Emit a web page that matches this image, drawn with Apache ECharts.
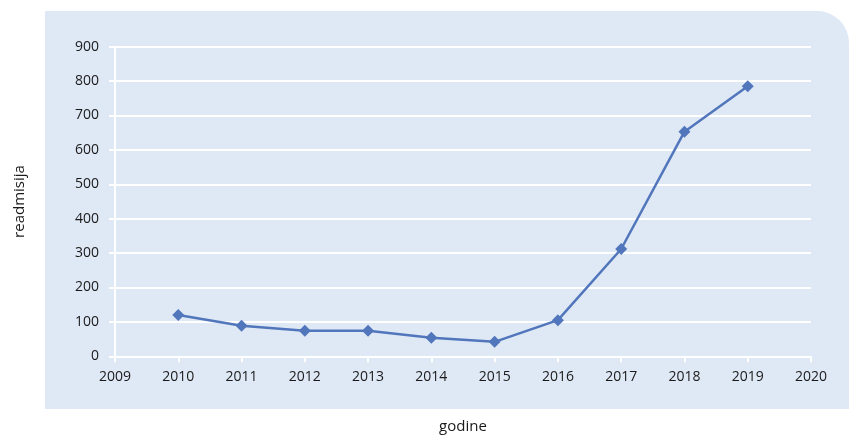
<!DOCTYPE html>
<html><head><meta charset="utf-8">
<script src="https://cdn.jsdelivr.net/npm/echarts@6/dist/echarts.min.js"></script>
<style>html,body{margin:0;padding:0;background:#fff}#c{width:849px;height:436px}</style>
</head><body><div id="c"></div>
<script>
const years = [2010, 2011, 2012, 2013, 2014, 2015, 2016, 2017, 2018, 2019];
const readmisija = [120, 89, 74, 74, 54, 42, 105, 312, 653, 785];
const xAxisName = 'godine';
const yAxisName = 'readmisija';

const chart = echarts.init(document.getElementById('c'), null, {renderer: 'canvas'});
const font = '"Open Sans", Lato, sans-serif';
chart.setOption({
  animation: false,
  graphic: [{
    type: 'rect', z: -10, silent: true,
    shape: {x: 45, y: 11, width: 804, height: 398, r: [0, 32, 0, 0]},
    style: {fill: '#dfe8f5'}
  }],
  grid: {left: 115, right: 38, top: 46.7, bottom: 79.7, containLabel: false, outerBoundsMode: 'none'},
  xAxis: {
    type: 'value', min: 2009, max: 2020, interval: 1,
    name: xAxisName, nameLocation: 'middle', nameGap: 63,
    nameTextStyle: {color: '#1a1a1a', fontSize: 15, fontFamily: font},
    axisLine: {show: true, lineStyle: {color: '#ffffff', width: 2}},
    axisTick: {show: true, length: 6, lineStyle: {color: '#ffffff', width: 2}},
    axisLabel: {color: '#1a1a1a', fontSize: 14, fontFamily: font, margin: 14, formatter: v => String(v)},
    splitLine: {show: false}
  },
  yAxis: {
    type: 'value', min: 0, max: 900, interval: 100,
    name: yAxisName, nameLocation: 'middle', nameGap: 88,
    nameTextStyle: {color: '#1a1a1a', fontSize: 15, fontFamily: font},
    axisLine: {show: true, lineStyle: {color: '#ffffff', width: 2}},
    axisTick: {show: true, length: 6, lineStyle: {color: '#ffffff', width: 2}},
    axisLabel: {color: '#1a1a1a', fontSize: 14, fontFamily: font, margin: 16},
    splitLine: {show: true, lineStyle: {color: '#ffffff', width: 2}}
  },
  series: [{
    type: 'line',
    data: years.map((y, i) => [y, readmisija[i]]),
    symbol: 'diamond', symbolSize: 12,
    lineStyle: {color: '#5176bb', width: 2.5},
    itemStyle: {color: '#5176bb'}
  }]
});
</script></body></html>
